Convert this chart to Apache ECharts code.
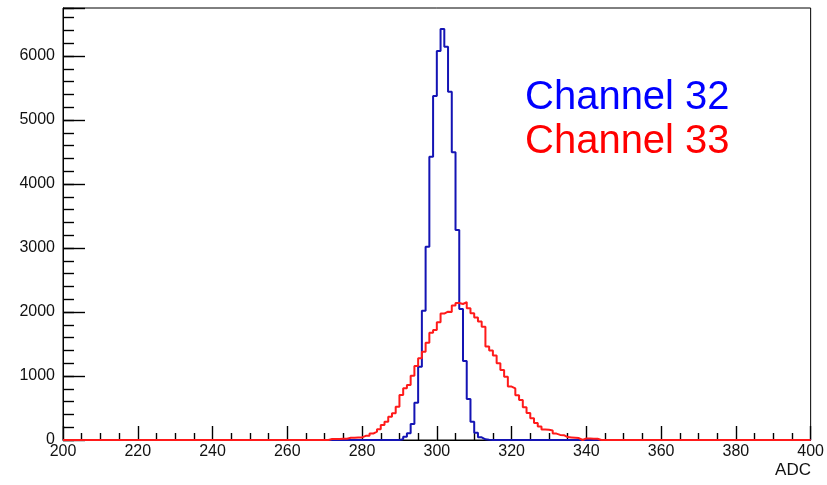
<!DOCTYPE html>
<html><head><meta charset="utf-8">
<script src="https://cdn.jsdelivr.net/npm/echarts@6/dist/echarts.min.js"></script>
<style>html,body{margin:0;padding:0;background:#fff}#c{width:827px;height:485px}</style>
</head><body><div id="c"></div>
<script>
// Axis ranges
const xMin = 200, xMax = 400, xStep = 20;
const yMin = 0, yMax = 6750, yStep = 1000, yMinorStep = 200;
const xTitle = 'ADC';
const legendNames = ['Channel 32', 'Channel 33'];

// Channel 32 histogram: first bin lower edge and counts per 1-ADC bin
const ch32Start = 290;
const ch32Counts = [11, 52, 105, 250, 583, 1145, 2020, 3020, 4427, 5375, 6078, 6422, 6145, 5443, 4495, 3281, 2047, 1234, 640, 286, 114, 42, 11, 5];

// Channel 33 histogram
const ch33Start = 271;
const ch33Counts = [15, 15, 15, 20, 20, 35, 35, 40, 40, 65, 67, 100, 130, 167, 234, 286, 364, 417, 520, 703, 808, 859, 1005, 1156, 1276, 1380, 1521, 1677, 1719, 1840, 1975, 2005, 2000, 2100, 2140, 2125, 2155, 2060, 1980, 1915, 1850, 1770, 1460, 1400, 1320, 1200, 1095, 990, 835, 805, 700, 625, 510, 420, 340, 265, 210, 165, 160, 150, 100, 80, 75, 45, 40, 35, 30, 0, 25, 25, 20, 20];

function histPoints(start, counts) {
  const pts = [];
  for (let v = xMin; v < xMax; v++) {
    const i = v - start;
    pts.push([v, (i >= 0 && i < counts.length) ? counts[i] : 0]);
  }
  pts.push([xMax, 0]);
  return pts;
}

const FONT = 'Liberation Sans';
const chart = echarts.init(document.getElementById('c'), null, {renderer: 'canvas'});
chart.setOption({
  animation: false,
  backgroundColor: '#fff',
  grid: {left: 63, right: 15, top: 8, bottom: 45, show: true, borderColor: '#000', borderWidth: 1, backgroundColor: 'transparent'},
  xAxis: {
    type: 'value', min: xMin, max: xMax, interval: xStep,
    axisLine: {show: true, lineStyle: {color: '#000', width: 1}},
    axisTick: {show: true, inside: true, length: 14, lineStyle: {color: '#000', width: 1.4}},
    minorTick: {show: true, splitNumber: 4, length: 7, lineStyle: {color: '#000', width: 1.4}},
    splitLine: {show: false},
    axisLabel: {color: '#111', fontSize: 16, fontFamily: FONT, margin: 4}
  },
  yAxis: [{
    type: 'value', min: yMin, max: yMax, interval: yStep,
    axisLine: {show: true, lineStyle: {color: '#000', width: 1}},
    axisTick: {show: true, inside: true, length: 22, lineStyle: {color: '#000', width: 1.4}},
    splitLine: {show: false},
    axisLabel: {color: '#111', fontSize: 16, fontFamily: FONT, margin: 8,
      formatter: v => (v % yStep === 0 ? String(v) : '')}
  }, {
    type: 'value', min: yMin, max: yMax, interval: yMinorStep, position: 'left',
    axisLine: {show: false},
    axisTick: {show: true, inside: true, length: 11, lineStyle: {color: '#000', width: 1.4}},
    splitLine: {show: false},
    axisLabel: {show: false}
  }],
  series: [{
    name: legendNames[0], type: 'line', step: 'end', symbol: 'none',
    data: histPoints(ch32Start, ch32Counts),
    lineStyle: {color: '#1414b4', width: 2}, z: 2
  }, {
    name: legendNames[1], type: 'line', step: 'end', symbol: 'none',
    data: histPoints(ch33Start, ch33Counts),
    lineStyle: {color: '#ff1a1a', width: 2}, z: 3
  }],
  graphic: [
    {type: 'text', left: 525, top: 78, style: {text: legendNames[0], fill: '#0000ff', font: '40px "Liberation Sans"'}},
    {type: 'text', left: 525, top: 122, style: {text: legendNames[1], fill: '#ff0000', font: '40px "Liberation Sans"'}},
    {type: 'text', right: 16, top: 462, style: {text: xTitle, fill: '#111', font: '17px "Liberation Sans"'}}
  ]
});
</script></body></html>
